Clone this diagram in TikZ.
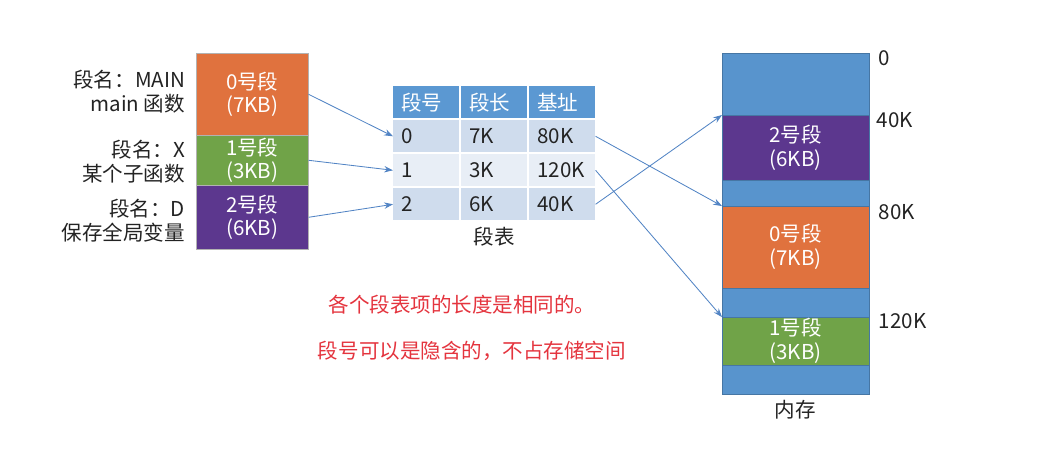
\documentclass[tikz,border=0pt]{standalone}
\usepackage{fontspec}
\setmainfont{Noto Sans CJK SC}
\usepackage{xcolor}
\usetikzlibrary{arrows.meta,positioning}

\definecolor{segorange}{RGB}{224,114,62}
\definecolor{seggreen}{RGB}{112,163,72}
\definecolor{segpurple}{RGB}{92,55,142}
\definecolor{memblue}{RGB}{88,148,205}
\definecolor{tabhead}{RGB}{91,152,210}
\definecolor{rowdark}{RGB}{207,220,237}
\definecolor{rowlight}{RGB}{232,238,246}
\definecolor{arrblue}{RGB}{82,132,196}
\definecolor{notered}{RGB}{228,52,62}
\definecolor{txt}{RGB}{35,35,35}

\begin{document}
\begin{tikzpicture}[
  x=0.025cm, y=-0.025cm,
  font=\fontsize{14.6}{17}\selectfont,
  node distance=0pt,
  seg/.style={draw=white!70!black, line width=0.4pt, anchor=north west,
              minimum width=2.8cm, text=white, align=center, inner sep=0pt},
  mem/.style={draw=memblue!80!black, line width=0.4pt, minimum width=3.675cm,
              text=white, align=center, inner sep=0pt, outer sep=0pt},
  cell/.style={anchor=north west, minimum height=0.8cm, text width=1.25cm,
               inner xsep=0.2cm, inner ysep=0pt, align=left, text=txt},
  lbl/.style={anchor=east, align=right, text=txt},
  addr/.style={anchor=west, text=txt},
  note/.style={text=notered},
  arr/.style={-{Stealth[length=2.2mm,width=1.6mm]}, draw=arrblue, line width=0.6pt},
]
\useasboundingbox (0,0) rectangle (1060,475);

% segments of the program
\node[seg, fill=segorange, minimum height=2.05cm] (seg0) at (196,53) {0号段\\(7KB)};
\node[seg, fill=seggreen, minimum height=1.25cm] (seg1) at (196,135) {1号段\\(3KB)};
\node[seg, fill=segpurple, minimum height=1.6cm] (seg2) at (196,185) {2号段\\(6KB)};

\node[lbl] (name0) at (190,92) {段名：MAIN\\main 函数};
\node[lbl] (name1) at (190,162) {段名：X\\某个子函数};
\node[lbl] (name2) at (190,221) {段名：D\\保存全局变量};

% segment table
\node[cell, fill=tabhead, text=white] (hnum) at (393,86) {段号};
\node[cell, fill=tabhead, text=white] (hlen) at (461,86) {段长};
\node[cell, fill=tabhead, text=white] (hbase) at (529,86) {基址};
\foreach \n/\l/\b/\y/\f in {0/7K/80K/120/rowdark, 1/3K/120K/154/rowlight, 2/6K/40K/188/rowdark}{
  \node[cell, fill=\f] (num\n) at (393,\y) {\n};
  \node[cell, fill=\f] (len\n) at (461,\y) {\l};
  \node[cell, fill=\f] (base\n) at (529,\y) {\b};
}
\node[below=1pt of len2, text=txt] (tabname) {段表};

% physical memory
\node[mem, fill=memblue, minimum height=1.55cm, anchor=north west] (freeA) at (722,53) {};
\node[mem, fill=segpurple, minimum height=1.625cm, below=of freeA] (mem2) {2号段\\(6KB)};
\node[mem, fill=memblue, minimum height=0.65cm, below=of mem2] (freeB) {};
\node[mem, fill=segorange, minimum height=2.05cm, below=of freeB] (mem0) {0号段\\(7KB)};
\node[mem, fill=memblue, minimum height=0.725cm, below=of mem0] (freeC) {};
\node[mem, fill=seggreen, minimum height=1.2cm, below=of freeC] (mem1) {1号段\\(3KB)};
\node[mem, fill=memblue, minimum height=0.725cm, below=of mem1] (freeD) {};
\node[below=1pt of freeD, text=txt] (memname) {内存};

\node[addr] (a0) at (874,58) {0};
\node[addr] (a40) at (872,120) {40K};
\node[addr] (a80) at (874,212) {80K};
\node[addr] (a120) at (874,321) {120K};

% notes
\node[note] (note1) at (462,305) {各个段表项的长度是相同的。};
\node[note, anchor=west] (note2) at (313,351) {段号可以是隐含的，不占存储空间};

% mappings
\draw[arr] (seg0.east) -- (num0.west);
\draw[arr] (seg1.east) -- (num1.west);
\draw[arr] (seg2.east) -- (num2.west);
\draw[arr] (base0.east) -- (mem0.north west);
\draw[arr] (base1.east) -- (mem1.north west);
\draw[arr] (base2.east) -- (mem2.north west);
\end{tikzpicture}
\end{document}
